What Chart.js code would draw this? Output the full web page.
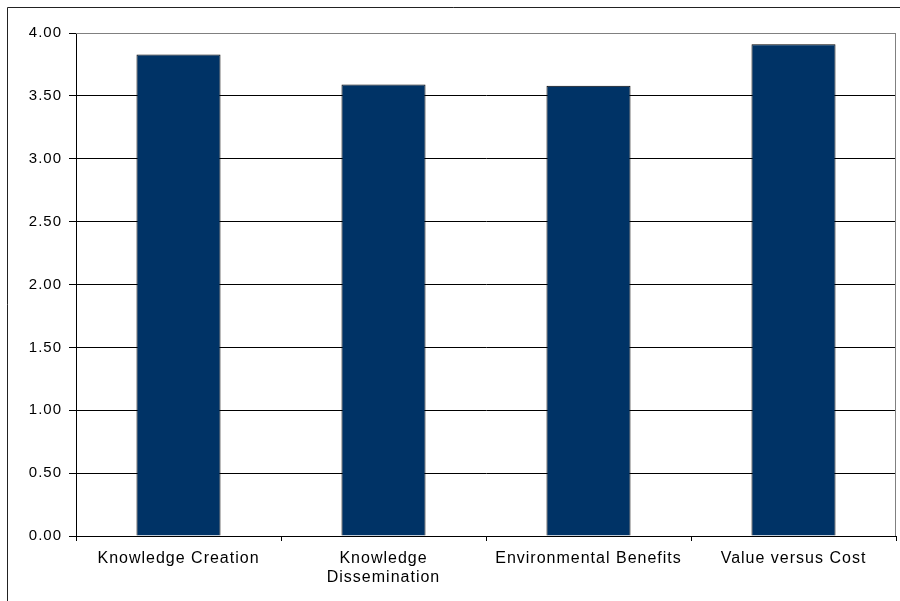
<!DOCTYPE html>
<html>
<head>
<meta charset="utf-8">
<script src="https://cdn.jsdelivr.net/npm/chart.js@4.4.0/dist/chart.umd.min.js"></script>
<style>
  html, body { margin: 0; padding: 0; background: #fff; }
  #wrap { width: 900px; height: 601px; }
</style>
</head>
<body>
<div id="wrap"><canvas id="chart" width="900" height="601"></canvas></div>
<script>
const categories = [
  'Knowledge Creation',
  ['Knowledge', 'Dissemination'],
  'Environmental Benefits',
  'Value versus Cost'
]
const scores = [3.83, 3.59, 3.58, 3.91]
const yTicks = [0, 0.5, 1, 1.5, 2, 2.5, 3, 3.5, 4]

// outer frame, plot border on top/right, slightly wider text
const frame = {
  id: 'frame',
  beforeDraw(chart){
    chart.ctx.letterSpacing = '1px'
  },
  afterDraw(chart){
    const c = chart.ctx
    const a = chart.chartArea
    c.save()
    c.lineWidth = 1
    c.strokeStyle = '#808080'
    c.beginPath()
    c.moveTo(a.left, a.top + 0.5)
    c.lineTo(a.right - 0.5, a.top + 0.5)
    c.lineTo(a.right - 0.5, a.bottom)
    c.stroke()
    c.strokeStyle = '#222'
    c.beginPath()
    c.moveTo(7.5, 601)
    c.lineTo(7.5, 7.5)
    c.lineTo(900, 7.5)
    c.stroke()
    c.restore()
  }
}

new Chart(document.getElementById('chart'), {
  type: 'bar',
  data: {
    labels: categories,
    datasets: [{
      data: scores,
      backgroundColor: '#003366',
      borderColor: '#000',
      borderWidth: 1,
      categoryPercentage: 1,
      barPercentage: 0.41
    }]
  },
  options: {
    responsive: false,
    animation: false,
    layout: { padding: { top: 33, right: 4, left: 0, bottom: 0 } },
    plugins: {
      legend: { display: false },
      tooltip: { enabled: false }
    },
    scales: {
      x: {
        afterFit: s => { s.height = 65 },
        grid: {
          drawOnChartArea: false,
          drawTicks: true,
          tickLength: 5,
          color: '#000',
          offset: true
        },
        border: { color: '#000' },
        ticks: {
          color: '#000',
          padding: 8,
          maxRotation: 0,
          autoSkip: false,
          font: { family: 'Liberation Sans, Arial', size: 16, lineHeight: 1.2 }
        }
      },
      y: {
        min: 0,
        max: 4,
        afterFit: s => { s.width = 76 },
        afterBuildTicks: s => { s.ticks = yTicks.map(v => ({ value: v })) },
        grid: {
          color: ctx => ctx.tick && ctx.tick.value === 4 ? '#808080' : '#000',
          tickColor: '#000',
          tickLength: 7,
          lineWidth: 1
        },
        border: { color: '#000' },
        ticks: {
          color: '#000',
          padding: 7,
          font: { family: 'Liberation Sans, Arial', size: 15 },
          callback: v => v.toFixed(2)
        }
      }
    }
  },
  plugins: [frame]
})
</script>
</body>
</html>
